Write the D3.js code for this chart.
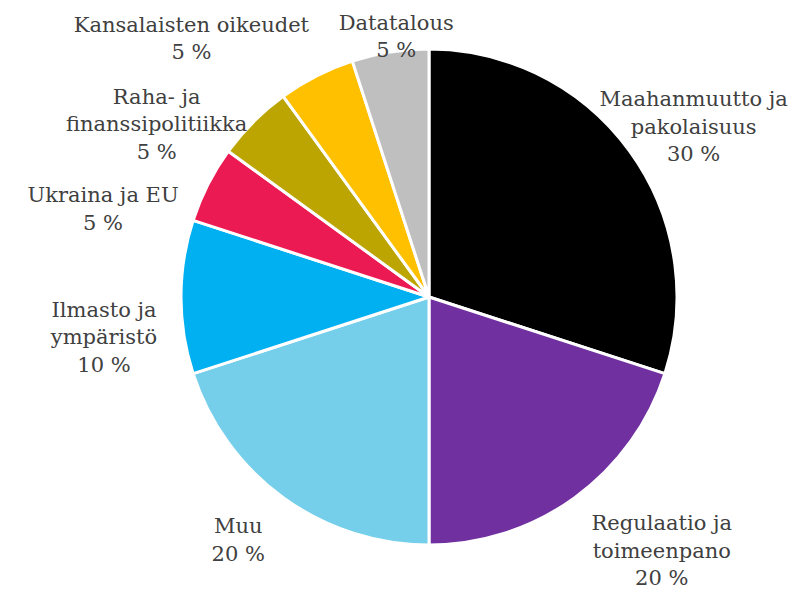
<!DOCTYPE html>
<html>
<head>
<meta charset="utf-8">
<script src="https://cdn.jsdelivr.net/npm/d3@7"></script>
<style>
  body { margin: 0; background: #fff; }
  svg { display: block; }
  text { font-family: "DejaVu Serif", Georgia, serif; font-size: 21px; fill: #404040; }
</style>
</head>
<body>
<svg id="chart" width="793" height="590"></svg>
<script>
// aiheet ja osuudet (%), myötäpäivään klo 12:sta
const topics = [
  ['Maahanmuutto ja', 'pakolaisuus'],
  ['Regulaatio ja', 'toimeenpano'],
  ['Muu'],
  ['Ilmasto ja', 'ympäristö'],
  ['Ukraina ja EU'],
  ['Raha- ja', 'finanssipolitiikka'],
  ['Kansalaisten oikeudet'],
  ['Datatalous']
]
const shares = [30, 20, 20, 10, 5, 5, 5, 5]
const colors = ['#000000', '#7030a0', '#75cfea', '#00b0f0', '#ec1a52', '#bca500', '#ffc000', '#bfbfbf']

// label nudges from the slice's outer edge point
const labelShift = [[64, -25], [87, 53], [-45, 42], [-77, 40], [-105, 24], [-97, 2], [-125, -38], [6, -16]]

const cx = 429, cy = 297, radius = 248
const lineHeight = 27.5

const svg = d3.select('#chart')
const g = svg.append('g').attr('transform', `translate(${cx},${cy})`)

const pie = d3.pie().sort(null).value(d => d)
const arcs = pie(shares)

const arc = d3.arc().innerRadius(0).outerRadius(radius)
const edgeArc = d3.arc().innerRadius(radius).outerRadius(radius)

g.selectAll('path')
  .data(arcs)
  .enter()
  .append('path')
  .attr('d', arc)
  .attr('fill', (d, i) => colors[i])
  .attr('stroke', '#fff')
  .attr('stroke-width', 3)
  .attr('stroke-linejoin', 'round')

// labels: name lines + percentage
arcs.forEach((d, i) => {
  const [ex, ey] = edgeArc.centroid(d)
  const lx = ex + labelShift[i][0]
  const ly = ey + labelShift[i][1]
  const lines = topics[i].concat([shares[i] + ' %'])
  const n = lines.length
  const t = g.append('text').attr('text-anchor', 'middle')
  lines.forEach((line, j) => {
    t.append('tspan')
      .attr('x', lx)
      .attr('y', ly + (j - (n - 1) / 2) * lineHeight)
      .attr('dy', '0.35em')
      .text(line)
  })
})
</script>
</body>
</html>
